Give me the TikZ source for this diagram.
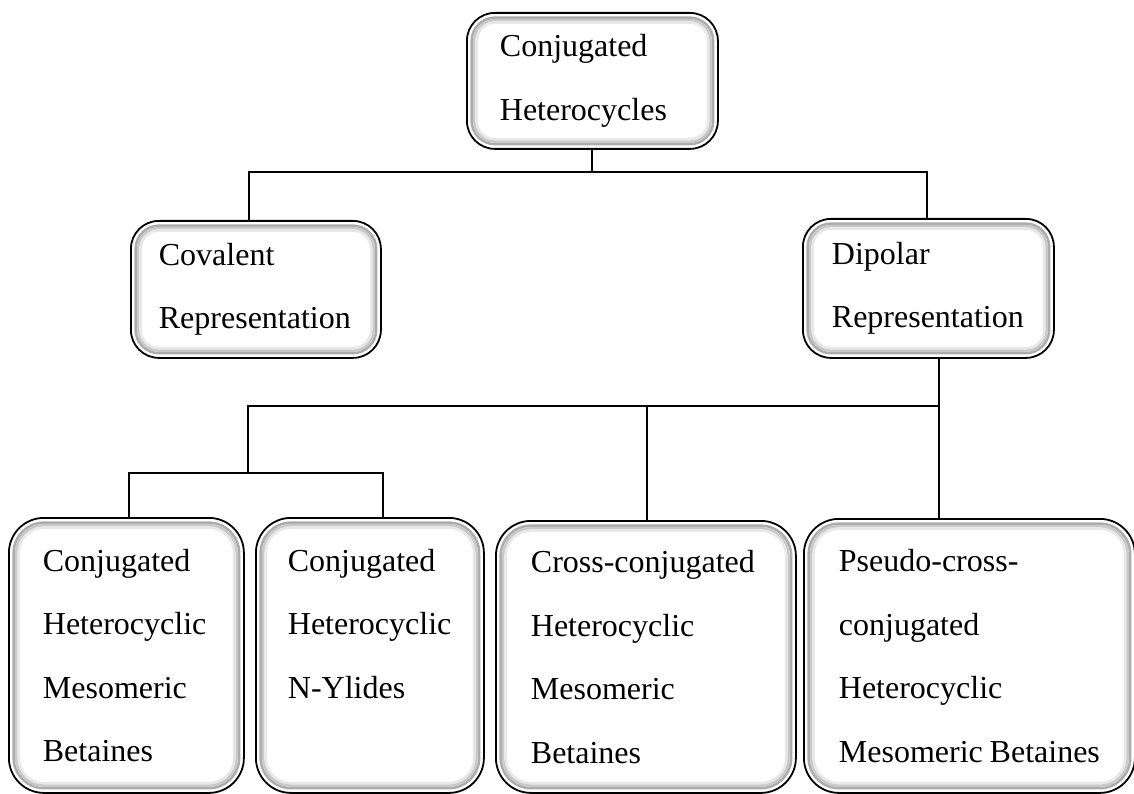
\documentclass[tikz,border=0pt]{standalone}
\usepackage{fontspec}
\setmainfont{Liberation Serif}

\begin{document}
\begin{tikzpicture}[x = 1pt, y = -1pt,
	bevel/.style = {draw, fill = white, line width = 1.8pt, rounded corners = #1 pt,
		anchor = north west, inner ysep = 0pt, align = flush left,
		font = {\fontsize{32pt}{63.5pt}\selectfont\hyphenpenalty=10000\exhyphenpenalty=10000},
		path picture = {
			\foreach \inset/\shade in {4.75/65, 7.25/42, 9.75/18}
				\draw [gray!\shade, line width = 2.5pt, rounded corners = {(#1 - \inset) * 1pt}]
					([shift = {(\inset pt, -\inset pt)}] path picture bounding box.north west) rectangle
					([shift = {(-\inset pt, \inset pt)}] path picture bounding box.south east);
		}},
	link/.style = {line width = 2pt}]

	\useasboundingbox (0, 0) rectangle (1134, 794);

	% Root

	\node [bevel = 28, inner xsep = 33pt, text width = 185pt, minimum height = 136pt] (het) at (466, 12) {Conjugated\\ Heterocycles};

	% Two representations

	\node [bevel = 28, inner xsep = 28pt, text width = 194pt, minimum height = 137pt] (cov) at (130, 220) {Covalent\\ Representation};
	\node [bevel = 28, inner xsep = 29pt, text width = 193pt, minimum height = 139pt] (dip) at (802, 218) {Dipolar\\ Representation};

	% Dipolar classes

	\node [bevel = 35, inner xsep = 34pt, text width = 167pt, minimum height = 275pt] (cmb) at (8, 517) {Conjugated\\ Heterocyclic\\ Mesomeric\\ Betaines};
	\node [bevel = 35, inner xsep = 32pt, text width = 164pt, minimum height = 275pt, text depth = 191pt] (cny) at (255, 517) {Conjugated\\ Heterocyclic\\ N-Ylides};
	\node [bevel = 35, inner xsep = 35pt, text width = 230pt, minimum height = 272pt] (ccb) at (495, 520) {Cross-conjugated\\ Heterocyclic\\ Mesomeric\\ Betaines};
	\node [bevel = 35, inner xsep = 35pt, text width = 261pt, minimum height = 274pt] (pcc) at (803, 518) {Pseudo-cross-\\ conjugated\\ Heterocyclic\\ Mesomeric~Betaines};

	% Branch points

	\coordinate (split1) at (590, 172);
	\coordinate (split2) at (938, 406);
	\coordinate (split3) at (248, 473);

	% Upper connectors

	\draw [link] (het.south) -- (het.south |- split1);
	\draw [link] ([xshift = -7pt] cov.north) |- (split1) -| ([xshift = -1.5pt] dip.north);

	% Lower connectors

	\draw [link] ([xshift = 10.5pt] dip.south) -- ([xshift = -30.5pt] pcc.north);
	\draw [link] (split2) -| (split3);
	\draw [link] ([xshift = 2.5pt] cmb.north) |- (split3) -| ([xshift = 13pt] cny.north);
	\draw [link] ([xshift = 1pt] ccb.north) -- ([xshift = 1pt] ccb.north |- split2);

\end{tikzpicture}
\end{document}
